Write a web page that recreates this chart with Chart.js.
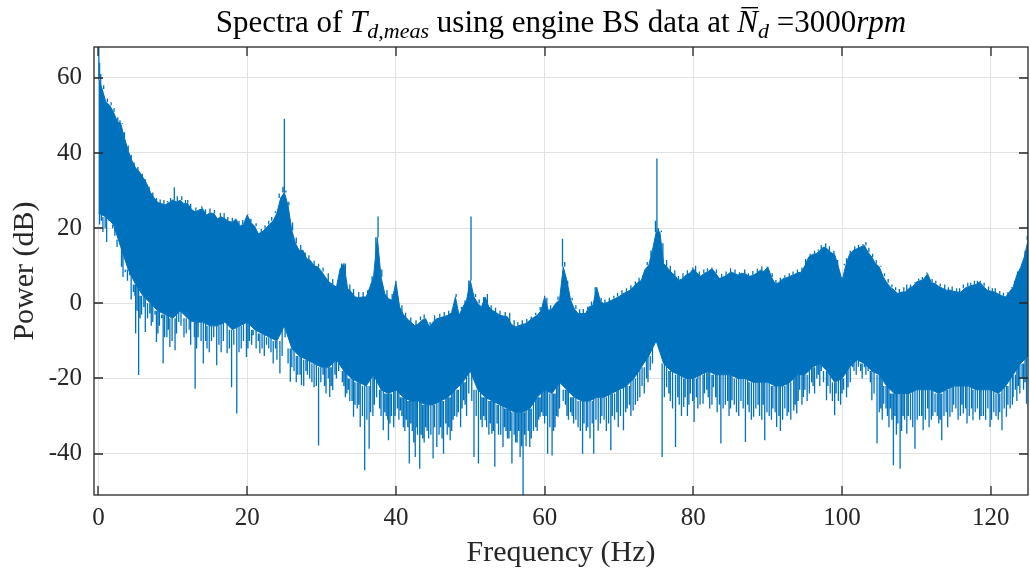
<!DOCTYPE html>
<html>
<head>
<meta charset="utf-8">
<script src="https://cdn.jsdelivr.net/npm/chart.js@4.4.1/dist/chart.umd.min.js"></script>
<style>
    html, body { margin: 0; padding: 0; background: #fff; }
    #spectrum { display: block; }
</style>
</head>
<body>
<canvas id="spectrum" width="1030" height="572"></canvas>
<script>
// Tick positions
const xTicks = [0, 20, 40, 60, 80, 100, 120];
const yTicks = [-40, -20, 0, 20, 40, 60];

// Upper edge of the spectrum band, one value every 0.5 Hz from 0 to 125 Hz (dB)
const upperStep = 0.5;
const upperDb = [
    60, 57, 53.5, 52.7, 51, 48.5, 47.8, 44, 40.5, 38,
    36, 35, 33.5, 31.8, 29.5, 28, 26.8, 26.5, 26.2, 26.8,
    27.5, 27, 27.4, 26.5, 26.5, 25, 24.3, 24.8, 25.2, 23.5,
    24, 23.9, 22.5, 23, 22.5, 21.8, 21.6, 22.4, 20.5, 21,
    23.5, 21.5, 20.5, 18.5, 19, 19.9, 21, 22, 24, 28,
    29.5, 26, 19.4, 15.9, 14.1, 14.1, 11.9, 11.4, 10, 9.7,
    8.5, 7, 5.7, 5, 4.3, 9.2, 10.6, 4, 3, 1.7,
    1.5, 1.7, 1.7, 4.3, 7.2, 17.6, 7, 2.6, 1.2, 0.8,
    5.7, -1, -3, -4.1, -5, -5.9, -5.5, -4.5, -4.1, -6.3,
    -5, -4.1, -3.8, -3.5, -3.2, -2.5, 1.7, -3.2, -1, 0.8,
    6.1, 1.7, 0, -1, 1.7, -1, -1.9, -2.5, -3.2, -3.4,
    -3.6, -5.5, -6.3, -6, -5.6, -5.4, -4.5, -3.8, -3.2, -2,
    1.7, -1.9, -1.5, 0, 0.8, 9.7, 6, 0.8, -1.5, -2.7,
    -2.7, -2.7, -0.9, -0.5, 4.3, 0.5, -0.1, 0.3, 0.8, 1.3,
    1.8, 2.5, 3, 3.5, 4.5, 5.5, 6.1, 9, 10.1, 14.1,
    19, 19, 10.6, 9.5, 8.3, 7.5, 6.1, 6.5, 7.5, 8,
    9.2, 8, 7.2, 8, 8.5, 9.2, 8, 6.6, 7, 7.5,
    8.3, 8, 7.5, 8, 7.8, 7.2, 7.4, 8, 8.8, 8.5,
    9.7, 7, 5.2, 5.5, 6.5, 6.8, 7.2, 7.6, 8.1, 8.3,
    10, 12.3, 13, 13.2, 14, 15, 14.5, 13.5, 13, 9.7,
    6.1, 10.1, 13, 14.1, 14.5, 15, 15.4, 13.5, 12.3, 10.5,
    9.7, 7.2, 5.5, 4.3, 3.5, 2.6, 3, 3, 4, 4.5,
    5.7, 6, 6.5, 7.9, 5.5, 5.2, 4.5, 4, 3.5, 3.5,
    3.2, 3, 3, 4, 4.5, 4.8, 5, 5.7, 4.5, 3.5,
    3.2, 3, 2.5, 2, 1.7, 3, 4.3, 7.5, 9.5, 12.3,
    16.8
];

// Lower edge of the solid part of the band, one value per Hz (dB)
const lowerStep = 1;
const lowerDb = [
    24, 23, 21, 15, 9, 5, 2, 0, -2, -3,
    -4, -2, -4, -5, -5, -6, -6, -5, -7, -6,
    -5, -7, -8, -9, -10, -6, -12, -14, -15, -16,
    -17, -17, -15, -18, -20, -21, -22, -19, -23, -24,
    -23, -25, -26, -26, -27, -27, -26, -25, -23, -21,
    -18, -23, -25, -26, -27, -28, -29, -29, -28, -25,
    -23, -24, -21, -23, -25, -26, -26, -25, -25, -24,
    -23, -22, -20, -17, -14, -10, -16, -18, -19, -20,
    -20, -19, -18, -19, -19, -19, -20, -20, -21, -21,
    -21, -22, -22, -21, -19, -19, -17, -16, -18, -21,
    -20, -17, -15, -16, -18, -19, -22, -24, -24, -24,
    -23, -23, -23, -24, -23, -22, -22, -22, -23, -23,
    -23, -24, -22, -19, -16, -14
];

// Deep narrow dips below the band: [frequency Hz, tip dB]
const dipsDeep = [
    [0.15, 21], [0.6, 19], [1.1, 16.3], [1.6, 21], [2.2, 18], [3.1, 9.7], [3.6, 8.3], [4.2, 7.5], [4.7, 3],
    [5.0, -8], [5.4, -19.1], [5.8, -3], [6.3, -7.6], [6.9, -2.7], [7.3, -5], [7.8, -10.3], [8.2, -6],
    [8.7, -16], [9.2, -9], [9.6, -11.6], [10.3, -12.5], [10.8, -5], [11.5, -9], [12.2, -7], [12.6, -3.5],
    [13.0, -22.7], [13.4, -9], [13.8, -10], [14.1, -16], [14.6, -12], [15.2, -10], [15.9, -16.5], [16.5, -13],
    [17.3, -13.3], [17.9, -22.3], [18.6, -29.3], [19.2, -12], [19.9, -14.3], [20.3, -10], [20.8, -8.5],
    [21.2, -12], [21.7, -13.3], [22.3, -14], [22.9, -12], [23.5, -16], [24.0, -15], [24.4, -18.7],
    [25.8, -20.9], [26.3, -18], [26.8, -19], [27.3, -21.8], [27.9, -18], [28.4, -20], [29.0, -22.3],
    [29.6, -37.8], [30.2, -19], [30.6, -24], [31.1, -24.9], [31.5, -23.1], [32.0, -20], [33.0, -22],
    [33.4, -24], [33.8, -26], [34.3, -30.2], [34.8, -28], [35.2, -32.9], [35.8, -44.4], [36.4, -38.7],
    [36.9, -30], [37.4, -25], [37.8, -28], [38.3, -33.8], [38.7, -30], [39.0, -36.4], [39.4, -30],
    [39.7, -33], [40.2, -28], [40.6, -28.5], [41.0, -33], [41.4, -31], [41.8, -42.6], [42.2, -34],
    [42.6, -40.9], [42.9, -35], [43.2, -44], [43.6, -36], [44.0, -33], [44.4, -36], [45.0, -41.3],
    [45.5, -38.2], [46.0, -33], [46.4, -40], [46.9, -35], [47.3, -36.4], [47.7, -31], [48.2, -30.2],
    [48.7, -33], [49.1, -25.8], [49.5, -30], [50.5, -40.9], [50.8, -30], [51.1, -42.6], [51.6, -33],
    [52.0, -31.1], [52.5, -35], [52.9, -34.7], [53.3, -43.5], [53.8, -35], [54.4, -38.2], [54.8, -34],
    [55.2, -36], [55.6, -42.6], [56.1, -37], [56.7, -40.9], [57.1, -51], [57.5, -38], [58.0, -38.2],
    [58.5, -34], [59.0, -34], [59.4, -30.2], [59.8, -30], [60.4, -40], [61.0, -40.5], [61.4, -33],
    [61.8, -30.2], [62.5, -26], [63.0, -30], [63.5, -29], [63.9, -32], [64.5, -33], [65.1, -40],
    [65.6, -34], [66.1, -36], [66.6, -40], [67.2, -33.9], [67.7, -30], [68.3, -34], [68.9, -39.1],
    [69.4, -31], [69.9, -33], [70.6, -33.8], [71.1, -28], [71.9, -28.5], [72.5, -26], [73.4, -24],
    [73.9, -21], [74.2, -17.8], [75.8, -40.9], [76.4, -22.3], [76.9, -26], [77.6, -38.2], [78.1, -27],
    [78.7, -27.6], [79.2, -30], [79.6, -24], [80.1, -31.6], [80.6, -28], [81.3, -26.7], [81.8, -23],
    [82.2, -28], [82.7, -22.3], [83.2, -29], [83.7, -37.3], [84.3, -27], [84.8, -30], [85.2, -25.8],
    [85.8, -29], [86.4, -26], [87.0, -36.9], [87.5, -29], [88.1, -30.2], [88.7, -27], [89.2, -31],
    [89.6, -36.4], [90.2, -30], [90.7, -28], [91.2, -32.9], [91.7, -34], [92.3, -28], [92.8, -29],
    [93.5, -28.5], [93.9, -29.3], [94.3, -23], [94.8, -24.9], [95.3, -26], [95.9, -21], [96.3, -24],
    [96.8, -19], [97.2, -18], [97.9, -25.8], [98.4, -24], [99.0, -29.8], [99.5, -26], [100.0, -24],
    [100.4, -20], [100.8, -22.3], [101.6, -18], [102.2, -16.9], [102.7, -20], [103.5, -15.2],
    [104.0, -25.8], [104.7, -37.3], [105.2, -28], [105.6, -26.7], [106.1, -30], [106.5, -28],
    [106.9, -43.1], [107.3, -35], [107.8, -44], [108.2, -30], [108.7, -34.7], [109.2, -31],
    [109.8, -38.7], [110.4, -30], [110.9, -33.8], [111.5, -28], [112.0, -31], [112.5, -29],
    [113.0, -32], [113.4, -36.4], [114.0, -29], [114.5, -30.2], [115.0, -27], [115.6, -31],
    [116.3, -29.3], [116.8, -32], [117.6, -31.1], [118.2, -28], [118.7, -30], [119.3, -31],
    [119.9, -32.9], [120.4, -29], [121.0, -31], [121.5, -33.8], [122.1, -30.2], [122.6, -28],
    [123.0, -24.9], [123.5, -26], [123.9, -24], [124.4, -23], [124.8, -26.7]
];

// Shorter dips that fill out the ragged lower edge: [frequency Hz, tip dB]
const dipsShallow = [
    [0.4, 22], [0.9, 20], [1.4, 22], [1.9, 20], [2.5, 17], [3.3, 7], [3.9, 6], [4.4, 1], [4.9, 2],
    [5.2, -2], [5.6, -4], [6.1, -1], [6.6, -4], [7.1, -6], [7.6, -3], [8.0, -8], [8.5, -4], [8.9, -9],
    [9.4, -7], [9.9, -10], [10.5, -8], [11.1, -6], [11.8, -8], [12.4, -11], [12.9, -9], [13.2, -12],
    [14.4, -10], [14.9, -13], [15.5, -9], [16.2, -11], [16.8, -10], [17.6, -12], [18.2, -11], [18.9, -13],
    [19.5, -10], [20.1, -12], [20.6, -11], [21.5, -10], [22.0, -12], [22.6, -11], [23.2, -13], [23.8, -12],
    [24.7, -14], [25.1, -9], [25.5, -16], [26.0, -17], [26.6, -21], [27.1, -19], [27.6, -22], [28.1, -19],
    [28.7, -21], [29.3, -22], [29.9, -21], [30.4, -22], [30.9, -20], [31.3, -22], [31.8, -19], [32.3, -18],
    [32.8, -21], [33.2, -25], [33.6, -23], [34.1, -26], [34.5, -27], [35.0, -27], [35.5, -30], [36.1, -31],
    [36.6, -29], [37.1, -27], [37.6, -23], [38.0, -30], [38.5, -29], [38.9, -31], [39.2, -32], [39.9, -30],
    [40.4, -31], [40.8, -30], [41.2, -34], [41.6, -33], [42.0, -32], [42.4, -37], [42.8, -33], [43.4, -35],
    [43.8, -37], [44.2, -34], [44.7, -35], [45.2, -33], [45.8, -35], [46.2, -36], [46.7, -32], [47.1, -33],
    [47.5, -34], [47.9, -30], [48.4, -29], [48.9, -28], [49.3, -27], [49.8, -24], [50.2, -26], [51.4, -31],
    [51.8, -30], [52.2, -33], [52.7, -32], [53.1, -34], [53.6, -32], [54.1, -35], [54.6, -33], [55.0, -36],
    [55.4, -34], [55.9, -35], [56.3, -37], [56.5, -34], [56.9, -38], [57.3, -35], [57.8, -34], [58.2, -36],
    [58.8, -33], [59.2, -31], [59.6, -29], [60.0, -32], [60.2, -30], [60.7, -33], [61.2, -34], [61.6, -30],
    [62.0, -28], [62.8, -27], [63.2, -31], [63.7, -30], [64.2, -31], [64.8, -34], [65.3, -32], [65.8, -33],
    [66.4, -32], [66.9, -31], [67.5, -32], [68.0, -31], [68.6, -32], [69.1, -30], [69.7, -29], [70.2, -30],
    [70.9, -29], [71.4, -27], [71.6, -30], [72.2, -27], [72.8, -25], [73.1, -22], [73.7, -20], [74.5, -16],
    [76.1, -25], [76.7, -24], [77.2, -28], [77.9, -25], [78.4, -30], [78.9, -25], [79.4, -27], [79.9, -26],
    [80.4, -25], [80.9, -27], [81.5, -24], [82.0, -25], [82.5, -27], [83.0, -25], [83.5, -27], [84.0, -28],
    [84.6, -26], [85.0, -28], [85.5, -27], [86.1, -30], [86.7, -28], [87.3, -27], [87.8, -31], [88.4, -28],
    [88.9, -30], [89.4, -27], [89.9, -29], [90.5, -31], [91.0, -29], [91.5, -30], [92.0, -31], [92.6, -30],
    [93.1, -31], [93.7, -27], [94.1, -26], [94.6, -27], [95.0, -23], [95.6, -24], [96.1, -22], [96.6, -20],
    [97.0, -22], [97.5, -21], [98.1, -22], [98.7, -26], [99.2, -24], [99.8, -27], [100.2, -23], [100.6, -25],
    [101.1, -21], [101.4, -16], [101.9, -19], [102.5, -18], [103.0, -17], [103.2, -19], [103.8, -21],
    [104.3, -24], [105.0, -29], [105.4, -31], [105.9, -28], [106.3, -33], [106.7, -31], [107.1, -30],
    [107.5, -32], [108.0, -34], [108.4, -31], [108.9, -30], [109.5, -33], [110.1, -31], [110.7, -30],
    [111.2, -31], [111.7, -33], [112.2, -30], [112.8, -30], [113.2, -31], [113.7, -30], [114.2, -33],
    [114.8, -29], [115.3, -28], [115.9, -30], [116.1, -27], [116.6, -28], [117.1, -30], [117.4, -28],
    [117.9, -29], [118.5, -31], [119.0, -30], [119.6, -28], [120.1, -31], [120.7, -30], [121.2, -29],
    [121.8, -28], [122.3, -27], [122.9, -27], [123.3, -23], [123.7, -22], [124.2, -20], [124.6, -21]
];

// Harmonic peaks and other tall spikes above the band: [frequency Hz, tip dB]
const peaksUp = [
    [0.05, 68.2], [0.15, 64], [0.3, 61], [1.2, 54.5], [2.6, 49.5], [3.2, 48], [10.2, 30.9], [12.0, 27.5],
    [13.9, 25.8], [16.4, 24], [18.4, 22.5], [20.1, 23.7], [24.3, 29.2], [24.8, 31], [25.0, 49.1],
    [25.2, 30], [32.7, 10.6], [37.6, 23.1], [40.0, 6], [48.1, 2.5], [50.1, 23.1], [60.0, 2],
    [62.4, 17.2], [62.7, 11], [67.2, 4.3], [74.9, 22], [75.1, 38.5], [75.7, 19.4], [79.9, 9.5],
    [82.5, 9.5], [90.1, 9.8], [100.3, 10.5], [102.8, 15.8], [108.7, 5], [111.4, 8.2], [118.6, 6],
    [124.9, 18], [125.0, 27.5]
];

// Small teeth along the top edge: [frequency Hz, tip dB]
const teethUp = [
    [0.7, 58], [1.7, 53.5], [2.1, 52], [2.9, 48.7], [3.5, 45.5], [4.0, 42], [4.4, 39.5], [4.8, 37.5],
    [5.3, 36.3], [5.9, 34.5], [6.3, 33], [6.8, 31], [7.3, 29.5], [7.8, 28], [8.3, 27.6], [8.8, 27.5],
    [9.3, 27.2], [9.7, 28], [10.6, 28.5], [11.2, 28.5], [11.7, 27.5], [12.4, 26.5], [13.1, 25.5],
    [14.4, 25], [15.0, 25.2], [15.6, 24.8], [16.9, 24], [17.4, 23], [18.0, 22.8], [18.9, 22],
    [19.4, 22.2], [20.5, 22.5], [21.2, 21.3], [21.9, 19.8], [22.4, 20.8], [22.9, 22], [23.3, 23],
    [23.8, 24.5], [25.6, 27], [26.1, 21.5], [26.6, 17.5], [27.2, 15.5], [27.8, 13.5], [28.3, 12.8],
    [29.0, 11.3], [29.6, 10.5], [30.2, 9.5], [30.9, 8], [31.5, 6.5], [32.2, 6], [33.2, 8], [33.8, 5],
    [34.3, 3.8], [35.0, 3], [35.6, 3], [36.2, 3.5], [36.8, 6], [37.3, 12], [38.1, 9], [38.8, 3.5],
    [39.5, 2.5], [40.3, 1.5], [40.8, -0.5], [41.3, -2.5], [42.0, -3.8], [42.7, -4.5], [43.3, -3.5],
    [43.8, -3], [44.6, -5], [45.2, -3.2], [45.9, -2.8], [46.5, -2.3], [47.1, -2], [47.6, -1.5],
    [48.8, -1.5], [49.3, 0], [49.8, 2.5], [50.7, 2.5], [51.2, 1], [51.8, 0], [52.3, 2.5], [52.8, -0.5],
    [53.4, -1.2], [54.0, -2], [54.7, -2.3], [55.3, -2.5], [55.9, -4.5], [56.4, -5], [57.0, -4.5],
    [57.6, -4.2], [58.2, -3.5], [58.8, -2.5], [59.4, -1], [60.3, 1.5], [60.8, -0.5], [61.3, 0],
    [61.8, 1.8], [63.1, 5], [63.7, 1.5], [64.2, -0.5], [64.7, -1.6], [65.2, -1.5], [65.8, -1.8],
    [66.3, 0.5], [66.8, 2], [67.6, 1.5], [68.1, 1], [68.7, 1.5], [69.3, 2], [69.8, 2.8], [70.4, 3.5],
    [71.0, 4], [71.6, 4.8], [72.2, 5.8], [72.7, 6.8], [73.2, 7.5], [73.8, 11], [74.3, 12.5], [75.3, 20],
    [75.9, 16], [76.4, 11.5], [76.9, 10], [77.5, 8.8], [78.0, 7.3], [78.6, 8], [79.2, 8.8], [80.3, 10],
    [80.8, 8.5], [81.4, 9], [81.9, 9.3], [83.1, 9], [83.8, 7.8], [84.4, 8.5], [85.0, 9.3], [85.6, 9],
    [86.2, 8.3], [86.9, 9], [87.4, 8], [88.0, 8.6], [88.6, 9.2], [89.2, 9.8], [89.8, 9.8], [90.6, 8],
    [91.1, 6.2], [91.7, 6.8], [92.3, 7.5], [92.9, 8], [93.4, 8.5], [94.0, 9], [94.6, 9.5], [95.1, 11.8],
    [95.7, 13.2], [96.3, 14], [96.8, 14.3], [97.2, 15.5], [97.8, 16], [98.3, 15.2], [98.9, 14],
    [99.4, 11.5], [100.6, 12], [101.1, 14], [101.7, 15.2], [102.2, 15.6], [103.2, 16.3], [103.6, 14.8],
    [104.1, 13.2], [104.6, 11.5], [105.2, 10], [105.7, 8], [106.2, 6.5], [106.7, 5], [107.2, 4.3],
    [107.7, 3.8], [108.3, 4.3], [109.2, 5], [109.8, 5.5], [110.3, 6.6], [110.8, 7], [112.1, 6.5],
    [112.6, 6], [113.2, 5.3], [113.8, 5], [114.3, 4.3], [114.8, 4.5], [115.4, 4], [115.8, 4], [116.3, 5],
    [116.9, 5.5], [117.3, 5.5], [117.8, 6], [118.2, 6], [119.1, 5.5], [119.7, 4.5], [120.2, 4],
    [120.6, 4], [121.2, 3.3], [121.7, 2.8], [122.3, 2.5], [122.8, 4], [123.2, 6], [123.6, 8.5],
    [124.2, 10.5], [124.6, 14]
];

const lineColor = '#0072BD';
const textColor = '#262626';
const serif = "'Liberation Serif', 'Times New Roman', serif";

const upperPoints = upperDb.map((v, i) => ({ x: i * upperStep, y: v }));
const lowerPoints = lowerDb.map((v, i) => ({ x: i * lowerStep, y: v }));

// Each spike is a short vertical segment joined to the band, nulls break the line between them
const spikePoints = [];
function addSpikes(list, edge, step) {
    list.forEach(([f, tip]) => {
        const base = edge[Math.round(f / step)];
        spikePoints.push({ x: f, y: base }, { x: f, y: tip }, { x: f, y: null });
    });
}
addSpikes(dipsDeep, lowerDb, lowerStep);
addSpikes(dipsShallow, lowerDb, lowerStep);
addSpikes(peaksUp, upperDb, upperStep);
addSpikes(teethUp, upperDb, upperStep);

// Title with italic math parts and subscripts
const titleParts = [
    { text: 'Spectra of ' },
    { text: 'T', italic: true },
    { text: 'd,meas', italic: true, sub: true },
    { text: ' using engine BS data at ' },
    { text: 'N', italic: true, bar: true },
    { text: 'd', italic: true, sub: true },
    { text: ' =3000' },
    { text: 'rpm', italic: true }
];

const mathTitle = {
    id: 'mathTitle',
    afterDraw(chart) {
        const ctx = chart.ctx;
        const size = 31, subSize = 22;
        const fontFor = p => (p.italic ? 'italic ' : '') + (p.sub ? subSize : size) + 'px ' + serif;
        let total = 0;
        titleParts.forEach(p => {
            ctx.font = fontFor(p);
            p.w = ctx.measureText(p.text).width;
            total += p.w;
        });
        const area = chart.chartArea;
        let x = (area.left + area.right) / 2 - total / 2;
        const baseline = 32;
        ctx.save();
        ctx.fillStyle = '#000';
        ctx.textBaseline = 'alphabetic';
        ctx.textAlign = 'left';
        titleParts.forEach(p => {
            ctx.font = fontFor(p);
            const y = p.sub ? baseline + 6 : baseline;
            ctx.fillText(p.text, x, y);
            if (p.bar) {
                ctx.fillRect(x + 4, baseline - 25, p.w - 4, 1.4);
            }
            x += p.w;
        });
        ctx.restore();
    }
};

// Box round the plot with inward tick marks
const axesBox = {
    id: 'axesBox',
    afterDraw(chart) {
        const { ctx, chartArea: a, scales } = chart;
        const len = 9;
        ctx.save();
        ctx.strokeStyle = textColor;
        ctx.lineWidth = 1.3;
        ctx.strokeRect(a.left, a.top, a.right - a.left, a.bottom - a.top);
        ctx.beginPath();
        xTicks.forEach(v => {
            const px = Math.round(scales.x.getPixelForValue(v));
            ctx.moveTo(px, a.bottom);
            ctx.lineTo(px, a.bottom - len);
            ctx.moveTo(px, a.top);
            ctx.lineTo(px, a.top + len);
        });
        yTicks.forEach(v => {
            const py = Math.round(scales.y.getPixelForValue(v));
            ctx.moveTo(a.left, py);
            ctx.lineTo(a.left + len, py);
            ctx.moveTo(a.right, py);
            ctx.lineTo(a.right - len, py);
        });
        ctx.stroke();
        ctx.restore();
    }
};

const ctx = document.getElementById('spectrum').getContext('2d');

new Chart(ctx, {
    type: 'line',
    data: {
        datasets: [{
            label: 'upper',
            data: upperPoints,
            borderColor: lineColor,
            backgroundColor: lineColor,
            borderWidth: 1,
            pointRadius: 0,
            tension: 0,
            fill: '+1'
        }, {
            label: 'lower',
            data: lowerPoints,
            borderColor: lineColor,
            borderWidth: 1,
            pointRadius: 0,
            tension: 0,
            fill: false
        }, {
            label: 'spikes',
            data: spikePoints,
            borderColor: lineColor,
            borderWidth: 1.3,
            pointRadius: 0,
            spanGaps: false,
            fill: false
        }]
    },
    options: {
        responsive: false,
        animation: false,
        devicePixelRatio: 1,
        layout: {
            padding: { top: 47, right: 2, left: 0, bottom: 0 }
        },
        plugins: {
            legend: { display: false },
            tooltip: { enabled: false },
            title: { display: false }
        },
        scales: {
            x: {
                type: 'linear',
                min: -0.6,
                max: 125,
                afterBuildTicks: scale => {
                    scale.ticks = xTicks.map(v => ({ value: v }));
                },
                afterFit: scale => {
                    scale.height = 77;
                },
                border: { display: false },
                grid: {
                    color: '#e2e2e2',
                    lineWidth: 1,
                    drawTicks: false
                },
                ticks: {
                    color: textColor,
                    padding: 8,
                    maxRotation: 0,
                    font: { family: serif, size: 25 }
                },
                title: {
                    display: true,
                    text: 'Frequency (Hz)',
                    color: textColor,
                    padding: { top: 0, bottom: 1 },
                    font: { family: serif, size: 30 }
                }
            },
            y: {
                type: 'linear',
                min: -51,
                max: 68.2,
                afterBuildTicks: scale => {
                    scale.ticks = yTicks.map(v => ({ value: v }));
                },
                afterFit: scale => {
                    scale.width = 94;
                },
                border: { display: false },
                grid: {
                    color: '#e2e2e2',
                    lineWidth: 1,
                    drawTicks: false
                },
                ticks: {
                    color: textColor,
                    padding: 12,
                    font: { family: serif, size: 25 }
                },
                title: {
                    display: true,
                    text: 'Power (dB)',
                    color: textColor,
                    padding: { top: 7, bottom: 7 },
                    font: { family: serif, size: 30 }
                }
            }
        }
    },
    plugins: [mathTitle, axesBox]
});
</script>
</body>
</html>
